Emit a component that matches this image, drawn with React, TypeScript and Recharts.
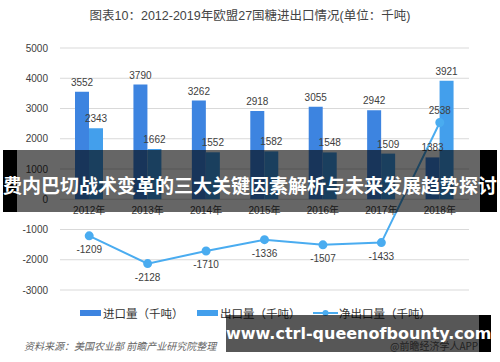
import { ComposedChart, Bar, Line, XAxis, YAxis, CartesianGrid, LabelList } from 'recharts';

const years = ['2012年', '2013年', '2014年', '2015年', '2016年', '2017年', '2018年'];
const importVals = [3552, 3790, 3262, 2918, 3055, 2942, 1383];
const exportVals = [2343, 1662, 1552, 1582, 1548, 1509, 3921];
const netVals = [-1209, -2128, -1710, -1336, -1507, -1433, 2538];
const yTicks = [5000, 4000, 3000, 2000, 1000, 0, -1000, -2000, -3000];
const seriesNames = ['进口量（千吨）', '出口量（千吨）', '净出口量（千吨）'];

const title = '图表10：2012-2019年欧盟27国糖进出口情况(单位：千吨)';
const source = '资料来源：美国农业部 前瞻产业研究院整理';
const credit = '@前瞻经济学人APP';
const banner = '费内巴切战术变革的三大关键因素解析与未来发展趋势探讨';
const site = 'www.ctrl-queenofbounty.com';

const IMPORT_COLOR = '#3d84e0';
const EXPORT_COLOR = '#439fec';
const NET_COLOR = '#4aacf0';
const FONT = '"Liberation Sans", "Noto Sans CJK SC", sans-serif';

const data = years.map((year, i) => ({
    year,
    import: importVals[i],
    export: exportVals[i],
    net: netVals[i],
}));

// 净出口标签：负值在下，正值在上
const NetLabel = (props: any) => {
    const { x, y, value } = props;
    const below = value < 0;
    return (
        <text
            x={x}
            y={below ? y + 14 : y - 12}
            textAnchor="middle"
            dominantBaseline="central"
            fontSize={10}
            fill="#404040"
            fontFamily={FONT}
        >
            {value}
        </text>
    );
};

export default function App() {
    return (
        <div style={{ position: 'absolute', left: 0, top: 0, width: 500, height: 362, background: '#fff', fontFamily: FONT, overflow: 'hidden' }}>
            <div style={{ position: 'absolute', top: 7, left: 0, width: 500, textAlign: 'center', fontSize: 12.5, color: '#444', lineHeight: '18px' }}>
                {title}
            </div>
            <ComposedChart
                width={500}
                height={362}
                data={data}
                margin={{ top: 48, right: 31, left: 0, bottom: 72 }}
                barGap={0}
            >
                <CartesianGrid vertical={false} stroke="#d9d9d9" />
                <XAxis dataKey="year" hide />
                <YAxis
                    width={60}
                    domain={[-3000, 5000]}
                    ticks={yTicks}
                    axisLine={false}
                    tickLine={false}
                    tickMargin={6}
                    tick={{ fontSize: 10, fill: '#404040', fontFamily: FONT }}
                    interval={0}
                />
                <Bar dataKey="import" name={seriesNames[0]} fill={IMPORT_COLOR} barSize={14} isAnimationActive={false}>
                    <LabelList dataKey="import" position="top" offset={6} fontSize={10} fill="#404040" fontFamily={FONT} />
                </Bar>
                <Bar dataKey="export" name={seriesNames[1]} fill={EXPORT_COLOR} barSize={14} isAnimationActive={false}>
                    <LabelList dataKey="export" position="top" offset={6} fontSize={10} fill="#404040" fontFamily={FONT} />
                </Bar>
                {/* 零线上的年份标签 */}
                <Line
                    dataKey={() => 0}
                    stroke="none"
                    dot={false}
                    activeDot={false}
                    legendType="none"
                    isAnimationActive={false}
                >
                    <LabelList dataKey="year" position="bottom" offset={8} fontSize={10} fill="#404040" fontFamily={FONT} />
                </Line>
                <Line
                    type="linear"
                    dataKey="net"
                    name={seriesNames[2]}
                    stroke={NET_COLOR}
                    strokeWidth={2}
                    dot={{ r: 3.5, fill: NET_COLOR, stroke: NET_COLOR }}
                    isAnimationActive={false}
                >
                    <LabelList dataKey="net" content={<NetLabel />} />
                </Line>
            </ComposedChart>

            {/* 图例 */}
            <div style={{ position: 'absolute', top: 304, left: 80, display: 'flex', fontSize: 11.5, color: '#333', lineHeight: '18px' }}>
                <div style={{ display: 'flex', alignItems: 'center', width: 117 }}>
                    <span style={{ display: 'inline-block', width: 21, height: 6, background: IMPORT_COLOR, marginRight: 2 }} />
                    <span style={{ fontFamily: '"Noto Sans CJK SC"' }}>{seriesNames[0]}</span>
                </div>
                <div style={{ display: 'flex', alignItems: 'center', width: 116 }}>
                    <span style={{ display: 'inline-block', width: 21, height: 6, background: EXPORT_COLOR, marginRight: 2 }} />
                    <span style={{ fontFamily: '"Noto Sans CJK SC"' }}>{seriesNames[1]}</span>
                </div>
                <div style={{ display: 'flex', alignItems: 'center' }}>
                    <svg width={25} height={10} style={{ marginRight: 1 }}>
                        <line x1={0} y1={5} x2={25} y2={5} stroke={NET_COLOR} strokeWidth={2} />
                        <circle cx={12.5} cy={5} r={3} fill={NET_COLOR} />
                    </svg>
                    <span style={{ fontFamily: '"Noto Sans CJK SC"' }}>{seriesNames[2]}</span>
                </div>
            </div>

            <div style={{ position: 'absolute', top: 338, left: 24, fontSize: 10, fontStyle: 'italic', color: '#666', fontFamily: '"Noto Sans CJK SC"', lineHeight: '16px' }}>
                {source}
            </div>
            <div style={{ position: 'absolute', top: 338, left: 390, fontSize: 10, color: '#666', fontFamily: '"Noto Sans CJK SC"', lineHeight: '16px' }}>
                {credit}
            </div>

            {/* 顶部横幅 */}
            <div style={{ position: 'absolute', top: 150, left: 3, width: 14, height: 62, background: '#000' }} />
            <div style={{ position: 'absolute', top: 150, left: 17, width: 463, height: 62, background: 'rgba(0,0,0,0.6)' }} />
            <div style={{ position: 'absolute', top: 150, left: 480, width: 17, height: 62, background: '#000' }} />
            <div style={{ position: 'absolute', top: 150, left: 0, width: 500, height: 70, lineHeight: '70px', textAlign: 'center', color: '#fff', fontWeight: 700, fontSize: 19, fontFamily: '"Noto Sans CJK SC"', whiteSpace: 'nowrap' }}>
                {banner}
            </div>

            {/* 底部网址横幅 */}
            <div style={{ position: 'absolute', top: 315, left: 226, width: 253, height: 37, background: 'rgba(0,0,0,0.66)' }} />
            <div style={{ position: 'absolute', top: 315, left: 479, width: 12, height: 37, background: '#000' }} />
            <div style={{ position: 'absolute', top: 315, left: 226, width: 253, height: 37, lineHeight: '37px', textAlign: 'center', color: '#fff', fontWeight: 700, fontSize: 16, fontFamily: '"DejaVu Sans", sans-serif', whiteSpace: 'nowrap' }}>
                {site}
            </div>
        </div>
    );
}
